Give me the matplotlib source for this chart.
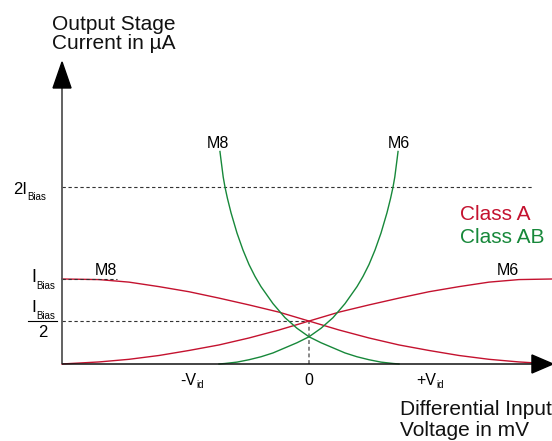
import matplotlib
matplotlib.use("Agg")
import matplotlib.pyplot as plt
from matplotlib.patches import Polygon

plt.rcParams['font.family'] = ['Liberation Sans', 'DejaVu Sans']
plt.rcParams['lines.scale_dashes'] = False

# ---------------- data (x in units of V_id, y in units of I_Bias) ----------------
u_red = [-2.06, -1.75, -1.5, -1.25, -1.0, -0.75, -0.5, -0.25, 0.0,
         0.25, 0.5, 0.75, 1.0, 1.25, 1.5, 1.75, 2.03]
red_m8 = [1.0, 0.993, 0.963, 0.91, 0.85, 0.775, 0.695, 0.61, 0.505,
          0.40, 0.306, 0.224, 0.159, 0.10, 0.055, 0.024, 0.0]
red_m6 = [0.0, 0.024, 0.055, 0.10, 0.159, 0.224, 0.306, 0.40, 0.505,
          0.61, 0.695, 0.775, 0.85, 0.91, 0.963, 0.993, 1.0]

u_green_m8 = [-0.742, -0.735, -0.725, -0.715, -0.70, -0.68, -0.65, -0.60, -0.55,
              -0.50, -0.45, -0.40, -0.30, -0.20, -0.10, 0.0, 0.10, 0.20, 0.30,
              0.40, 0.50, 0.60, 0.70, 0.75]
green_m8 = [2.50, 2.42, 2.31, 2.20, 2.08, 1.95, 1.78, 1.54, 1.34,
            1.17, 1.03, 0.91, 0.71, 0.545, 0.42, 0.32, 0.25, 0.19, 0.13,
            0.085, 0.05, 0.022, 0.006, 0.0]
u_green_m6 = [-0.75, -0.70, -0.60, -0.50, -0.40, -0.30, -0.20, -0.10, 0.0,
              0.10, 0.20, 0.30, 0.40, 0.45, 0.50, 0.55, 0.60, 0.65, 0.68,
              0.70, 0.715, 0.725, 0.735, 0.742]
green_m6 = [0.0, 0.006, 0.022, 0.05, 0.085, 0.13, 0.19, 0.25, 0.32,
            0.42, 0.545, 0.71, 0.91, 1.03, 1.17, 1.34, 1.54, 1.78, 1.95,
            2.08, 2.20, 2.31, 2.42, 2.50]

x_ticks = [-1.0, 0.0, 1.0]
x_tick_main = ['-V', '0', '+V']
x_tick_sub = ['id', '', 'id']

level_2ibias = 2.08
level_ibias = 1.0
level_half = 0.5

RED = '#c4122f'
GREEN = '#17883a'

# ---------------- figure ----------------
fig = plt.figure(figsize=(5.52, 4.41), dpi=100)
ax = fig.add_axes([0, 0, 1, 1])
ax.set_xlim(-2.575, 2.025)
ax.set_ylim(-0.906, 4.282)
ax.axis('off')

x_axis = -2.058
x_end = 2.033

# reference dashed lines
dash = (0, (2.4, 1.9))
ax.plot([x_axis, 1.867], [level_2ibias] * 2, color='#333333', lw=0.8, ls=dash)
ax.plot([x_axis, -1.6], [level_ibias] * 2, color='#333333', lw=0.8, ls=dash, zorder=4)
ax.plot([x_axis, 0.0], [level_half] * 2, color='#333333', lw=0.8, ls=dash)
ax.plot([0.0, 0.0], [0.0, level_half], color='#888888', lw=1.4, ls=(0, (2.8, 2.0)))

# curves
ax.plot(u_red, red_m8, color=RED, lw=1.0, zorder=3)
ax.plot(u_red, red_m6, color=RED, lw=1.0, zorder=3)
ax.plot(u_green_m8, green_m8, color=GREEN, lw=1.0, zorder=3)
ax.plot(u_green_m6, green_m6, color=GREEN, lw=1.0, zorder=3)

# axes with arrows
ax.plot([x_axis, x_axis], [0.0, 3.26], color='#555555', lw=1.3, zorder=5, solid_capstyle='butt')
ax.plot([x_axis, 1.86], [0.0, 0.0], color='#111111', lw=1.1, zorder=5, solid_capstyle='butt')
ax.add_patch(Polygon([[x_axis, 3.553], [x_axis - 0.075, 3.247], [x_axis + 0.075, 3.247]],
                     closed=True, color='black', zorder=6))
ax.add_patch(Polygon([[x_end, 0.0], [1.858, 0.106], [1.858, -0.106]],
                     closed=True, color='black', zorder=6))

# axis titles
ax.text(-2.142, 3.929, 'Output Stage', fontsize=15, ha='left', va='baseline', color='#111111')
ax.text(-2.142, 3.706, 'Current in µA', fontsize=15, ha='left', va='baseline', color='#111111')
ax.text(0.758, -0.60, 'Differential Input', fontsize=15, ha='left', va='baseline', color='#111111')
ax.text(0.758, -0.847, 'Voltage in mV', fontsize=15, ha='left', va='baseline', color='#111111')

# x tick labels
for xt, m, s in zip(x_ticks, x_tick_main, x_tick_sub):
    if s:
        ax.text(xt + 0.06, -0.247, m, fontsize=11.5, ha='right', va='baseline')
        ax.text(xt + 0.06, -0.288, s, fontsize=7, ha='left', va='baseline')
    else:
        ax.text(xt, -0.247, m, fontsize=11.5, ha='center', va='baseline')

# y labels
ax.text(-2.35, 2.0, '2I', fontsize=12, ha='right', va='baseline')
ax.text(-2.35, 1.929, 'Bias', fontsize=7, ha='left', va='baseline')
ax.text(-2.272, 0.965, 'I', fontsize=13, ha='right', va='baseline')
ax.text(-2.272, 0.882, 'Bias', fontsize=7, ha='left', va='baseline')
ax.text(-2.277, 0.612, 'I', fontsize=12.5, ha='right', va='baseline')
ax.text(-2.277, 0.533, 'Bias', fontsize=7, ha='left', va='baseline')
ax.plot([-2.342, -2.10], [level_half, level_half], color='black', lw=0.8)
ax.text(-2.217, 0.318, '2', fontsize=12, ha='center', va='baseline')

# curve labels
ax.text(-0.7625, 2.541, 'M8', fontsize=11.5, ha='center', va='baseline')
ax.text(0.75, 2.541, 'M6', fontsize=11.5, ha='center', va='baseline')
ax.text(-1.69, 1.047, 'M8', fontsize=11.5, ha='center', va='baseline')
ax.text(1.658, 1.047, 'M6', fontsize=11.5, ha='center', va='baseline')

# legend text
ax.text(1.258, 1.694, 'Class A', fontsize=15, color=RED, ha='left', va='baseline')
ax.text(1.258, 1.424, 'Class AB', fontsize=15, color=GREEN, ha='left', va='baseline')

fig.savefig('out.png', dpi=100)
